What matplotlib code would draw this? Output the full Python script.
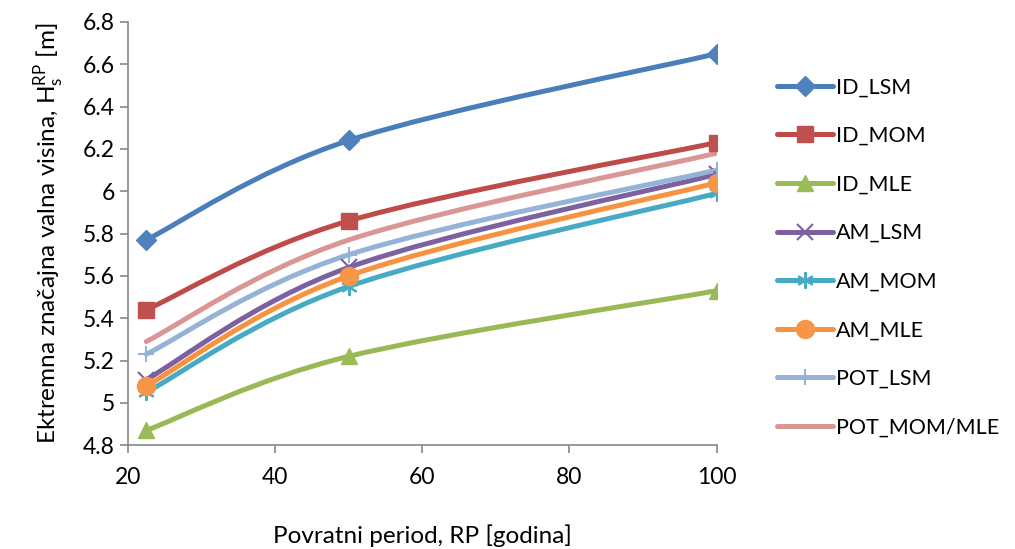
import numpy as np
import matplotlib
matplotlib.use('Agg')
import matplotlib.pyplot as plt
from matplotlib.path import Path
from matplotlib.patches import PathPatch
from matplotlib.lines import Line2D

plt.rcParams['font.family'] = ['Lato', 'DejaVu Sans']
plt.rcParams['mathtext.fontset'] = 'custom'
plt.rcParams['mathtext.rm'] = 'Lato'

# podaci ocitani sa slike
rp = [22.5, 50, 100]
names = ['ID_LSM', 'ID_MOM', 'ID_MLE', 'AM_LSM', 'AM_MOM', 'AM_MLE', 'POT_LSM', 'POT_MOM/MLE']
id_lsm = [5.77, 6.24, 6.65]
id_mom = [5.44, 5.86, 6.23]
id_mle = [4.87, 5.22, 5.53]
am_lsm = [5.11, 5.64, 6.08]
am_mom = [5.05, 5.55, 5.99]
am_mle = [5.08, 5.60, 6.04]
pot_lsm = [5.23, 5.70, 6.10]
pot_mom = [5.29, 5.77, 6.18]
series = [id_lsm, id_mom, id_mle, am_lsm, am_mom, am_mle, pot_lsm, pot_mom]

line_colors = ['#4A7EBB', '#BE4B48', '#98B954', '#7D60A0', '#46AAC5', '#F69240', '#95B3D7', '#D99694']
marker_colors = ['#4F81BD', '#C0504D', '#9BBB59', '#7D60A0', '#4BACC6', '#F79646', '#95B3D7', '#D99694']
markers = ['D', 's', '^', 'x', (6, 2, 0), 'o', '+', None]
msizes = [10, 12, 12, 11, 12, 13, 12, 0]


def smooth_path(x, y):
    # Excel-style smoothed line (Catmull-Rom bezier)
    pts = np.column_stack([x, y]).astype(float)
    n = len(pts)
    verts = [pts[0]]
    codes = [Path.MOVETO]
    for i in range(n - 1):
        p0 = pts[i - 1] if i > 0 else pts[i]
        p1 = pts[i]
        p2 = pts[i + 1]
        p3 = pts[i + 2] if i + 2 < n else pts[i + 1]
        c1 = p1 + (p2 - p0) / 6.0
        c2 = p2 - (p3 - p1) / 6.0
        verts += [c1, c2, p2]
        codes += [Path.CURVE4] * 3
    return Path(verts, codes)


fig = plt.figure(figsize=(10.15, 5.49), dpi=100)
ax = fig.add_axes([0.126, 0.189, 0.58, 0.771])

handles = []
for i, vals in enumerate(series):
    patch = PathPatch(smooth_path(rp, vals), facecolor='none', edgecolor=line_colors[i],
                      lw=3.6, capstyle='round', zorder=2 + i * 0.1)
    ax.add_patch(patch)
    mk = markers[i]
    if mk is not None:
        thin = mk in ('x', '+') or isinstance(mk, tuple)
        ax.plot(rp, vals, linestyle='none', marker=mk, ms=msizes[i], mew=1.5 if thin else 1,
                color=marker_colors[i], mec=marker_colors[i], zorder=3 + i * 0.1)
        handles.append(Line2D([], [], color=line_colors[i], lw=3.6, marker=mk,
                              ms=msizes[i], mew=1.5 if thin else 1,
                              mfc=marker_colors[i], mec=marker_colors[i], solid_capstyle='round'))
    else:
        handles.append(Line2D([], [], color=line_colors[i], lw=3.6, solid_capstyle='round'))

ax.set_xlim(20, 100)
ax.set_ylim(4.8, 6.8)
ax.set_xticks([20, 40, 60, 80, 100])
yt = np.arange(4.8, 6.81, 0.2)
ax.set_yticks(yt)
ax.set_yticklabels(['%g' % round(v, 1) for v in yt])
for s in ['top', 'right']:
    ax.spines[s].set_visible(False)
for s in ['left', 'bottom']:
    ax.spines[s].set_color('#878787')
    ax.spines[s].set_linewidth(1.2)
ax.tick_params(axis='both', colors='#878787', labelcolor='black', labelsize=16.5, length=6, width=1.2)
ax.tick_params(axis='x', pad=10)

ax.set_xlabel('Povratni period, RP [godina]', fontsize=17.5, labelpad=26)
ax.set_ylabel(r'Ektremna značajna valna visina, H$_{\rm s}^{\rm RP}$ [m]', fontsize=17.5, labelpad=12)

fig.legend(handles, names, loc='upper left', bbox_to_anchor=(0.757, 0.875), frameon=False,
           fontsize=15.5, handlelength=2.6, handletextpad=0.15, labelspacing=1.33, borderaxespad=0)

fig.savefig('out.png', dpi=100)
